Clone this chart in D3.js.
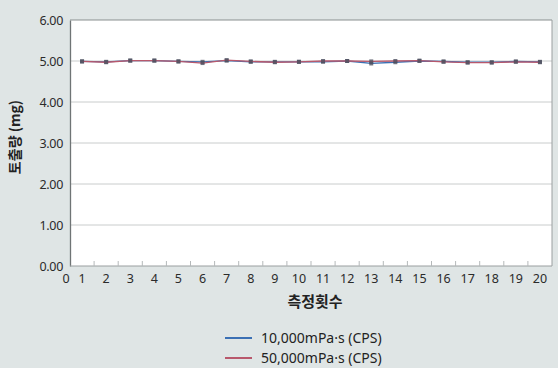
<!DOCTYPE html>
<html>
<head>
<meta charset="utf-8">
<script src="https://cdn.jsdelivr.net/npm/d3@7"></script>
<style>
  body { margin: 0; background: #dfe5e5; }
  svg { display: block; }
</style>
</head>
<body>
<div id="chart"></div>
<script>
// data
var runs = d3.range(1, 21);
var yTicks = [0, 1, 2, 3, 4, 5, 6];
var seriesNames = ['10,000mPa·s (CPS)', '50,000mPa·s (CPS)'];
var cps10k = [4.99, 4.98, 5.01, 5.01, 4.99, 4.98, 5.01, 4.98, 4.98, 4.98, 4.98, 5.00, 4.94, 4.97, 5.00, 4.99, 4.97, 4.97, 4.99, 4.98];
var cps50k = [4.99, 4.97, 5.01, 5.01, 4.99, 4.95, 5.02, 4.99, 4.97, 4.98, 5.00, 5.00, 4.99, 5.00, 5.01, 4.98, 4.96, 4.96, 4.98, 4.97];
var colors = ['#3b70b4', '#b8586c'];

var svpWidth = 558;
var svpHeight = 368;
var margin = {top: 20, right: 6, bottom: 102, left: 70};
var width = svpWidth - margin.left - margin.right;
var height = svpHeight - margin.top - margin.bottom;
var font = '"Noto Sans", "Open Sans", sans-serif';
var krFont = '"Noto Sans CJK KR", sans-serif';

var root = d3.select('#chart')
  .append('svg')
  .attr('width', svpWidth)
  .attr('height', svpHeight);

root.append('rect')
  .attr('width', svpWidth).attr('height', svpHeight)
  .style('fill', '#dfe5e5');

var svg = root.append('g')
  .attr('transform', 'translate(' + margin.left + ',' + margin.top + ')');

// scales
var x = d3.scaleBand().domain(runs).range([0, width]);
var y = d3.scaleLinear().domain([0, 6]).range([height, 0]);

// plot area
svg.append('rect')
  .attr('width', width).attr('height', height)
  .style('fill', 'white');

// grid lines
svg.append('g')
  .selectAll('line')
  .data(yTicks.filter(d => d > 0))
  .enter()
  .append('line')
  .attr('x1', 0).attr('x2', width)
  .attr('y1', d => y(d)).attr('y2', d => y(d))
  .style('stroke', d => d === 6 ? '#8a8f90' : '#c9cccc')
  .style('stroke-width', d => d === 6 ? 1.2 : 1);

// right border
svg.append('line')
  .attr('x1', width).attr('x2', width)
  .attr('y1', 0).attr('y2', height)
  .style('stroke', '#9a9fa0');

// y axis
var yAxis = svg.append('g')
  .call(d3.axisLeft(y).tickValues(yTicks).tickFormat(d3.format('.2f')).tickSize(0).tickPadding(7));
yAxis.select('.domain').style('stroke', '#6f7475').style('stroke-width', 1.3);
yAxis.selectAll('text')
  .style('font-family', font).style('font-size', '12.5px').style('letter-spacing', '-0.3px').style('fill', '#2b2b2b');

// x axis: tick marks between categories
var xAxis = svg.append('g')
  .attr('transform', 'translate(0,' + height + ')');
xAxis.append('line')
  .attr('x1', 0).attr('x2', width)
  .style('stroke', '#9a9fa0');
xAxis.selectAll('.tk')
  .data(runs.slice(1))
  .enter()
  .append('line')
  .attr('class', 'tk')
  .attr('x1', d => x(d)).attr('x2', d => x(d))
  .attr('y1', 0).attr('y2', -5)
  .style('stroke', '#b5b9ba');
xAxis.selectAll('.lbl')
  .data(runs)
  .enter()
  .append('text')
  .attr('class', 'lbl')
  .attr('x', d => x(d) + x.bandwidth() / 2)
  .attr('y', 17)
  .attr('text-anchor', 'middle')
  .text(d => d)
  .style('font-family', font).style('font-size', '12.5px').style('fill', '#2b2b2b');
xAxis.append('text')
  .attr('x', -4).attr('y', 17)
  .attr('text-anchor', 'middle')
  .text('0')
  .style('font-family', font).style('font-size', '12.5px').style('fill', '#2b2b2b');

// axis titles
svg.append('text')
  .attr('x', width / 2 + 4)
  .attr('y', height + 41)
  .attr('text-anchor', 'middle')
  .text('측정횟수')
  .style('font-family', krFont).style('font-size', '15px').style('font-weight', 'bold').style('fill', '#222');

svg.append('text')
  .attr('transform', 'rotate(-90)')
  .attr('x', -height / 2 + 6)
  .attr('y', -50)
  .attr('text-anchor', 'middle')
  .text('토출량 (mg)')
  .style('font-family', krFont).style('font-size', '14px').style('font-weight', 'bold').style('fill', '#222');

// lines and markers
var line = d3.line()
  .x((d, i) => x(runs[i]) + x.bandwidth() / 2)
  .y(d => y(d));

[cps10k, cps50k].forEach(function (vals, k) {
  svg.append('path')
    .datum(vals)
    .attr('d', line)
    .style('fill', 'none')
    .style('stroke', colors[k])
    .style('stroke-width', 1.3);
  svg.append('g')
    .selectAll('rect')
    .data(vals)
    .enter()
    .append('rect')
    .attr('x', (d, i) => x(runs[i]) + x.bandwidth() / 2 - 2)
    .attr('y', d => y(d) - 2)
    .attr('width', 4).attr('height', 4)
    .style('fill', '#4d5060')
    .style('opacity', 0.8);
});

// legend
var legend = root.append('g')
  .attr('transform', 'translate(225,338)');
seriesNames.forEach(function (name, k) {
  legend.append('line')
    .attr('x1', 0).attr('x2', 27)
    .attr('y1', k * 20).attr('y2', k * 20)
    .style('stroke', colors[k])
    .style('stroke-width', 2);
  legend.append('text')
    .attr('x', 36).attr('y', k * 20 + 5)
    .text(name)
    .style('font-family', font).style('font-size', '14px').style('fill', '#222');
});
</script>
</body>
</html>
